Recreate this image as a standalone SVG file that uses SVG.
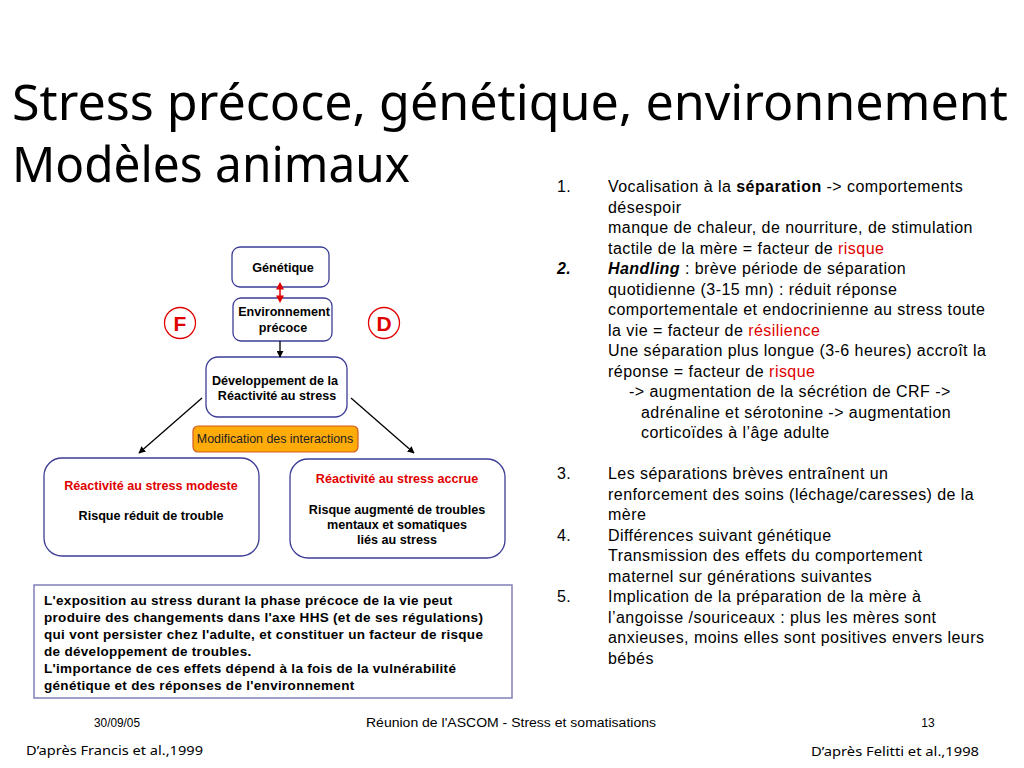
<svg xmlns="http://www.w3.org/2000/svg" width="1024" height="768" viewBox="0 0 1024 768">
<defs>
<style>
.title{font-family:"Comic Sans MS","Noto Sans",sans-serif;font-size:50px;fill:#000}
.box{fill:#fff;stroke:#3c3c96;stroke-width:1.3}
.bl{font-family:"Liberation Sans",Arial,sans-serif;font-size:12.6px;font-weight:bold;fill:#000;text-anchor:middle}
.red{fill:#e00000}
.rt{font-family:"Liberation Sans",Arial,sans-serif;font-size:16px;letter-spacing:0.45px;fill:#000}
.ft{font-family:"Liberation Sans",Arial,sans-serif;font-size:12px;fill:#000;text-anchor:middle}
.cm{font-family:"Comic Sans MS","Noto Sans",sans-serif;font-size:13px;fill:#000}
.bt{font-family:"Liberation Sans",Arial,sans-serif;font-size:13.5px;letter-spacing:0.3px;font-weight:bold;fill:#000}
.conn{stroke:#000;stroke-width:1.3;fill:none}
</style>
<marker id="ah" viewBox="0 0 10 10" refX="9" refY="5" markerWidth="7" markerHeight="7" orient="auto-start-reverse" markerUnits="userSpaceOnUse">
<path d="M0,0 L10,5 L0,10 z" fill="#000"/>
</marker>
</defs>
<rect width="1024" height="768" fill="#fff"/>

<g id="title">
<text class="title" x="12" y="120" textLength="996" lengthAdjust="spacingAndGlyphs">Stress précoce, génétique, environnement</text>
<text class="title" x="12" y="182" textLength="398" lengthAdjust="spacingAndGlyphs">Modèles animaux</text>
</g>

<g id="genetique">
<rect class="box" x="232" y="247" width="97" height="40" rx="8"/>
<text class="bl" x="283" y="272">Génétique</text>
</g>
<g id="environnement">
<rect class="box" x="233" y="298" width="99" height="43" rx="8"/>
<text class="bl" x="284" y="316">Environnement</text>
<text class="bl" x="283" y="332">précoce</text>
</g>
<g id="F">
<circle cx="180" cy="323" r="15.5" fill="#fff" stroke="#e00000" stroke-width="1.3"/>
<text x="180" y="331" font-family="Liberation Sans,Arial,sans-serif" font-size="21" font-weight="bold" fill="#e00000" text-anchor="middle">F</text>
</g>
<g id="D">
<circle cx="384" cy="323" r="15.5" fill="#fff" stroke="#e00000" stroke-width="1.3"/>
<text x="384" y="331" font-family="Liberation Sans,Arial,sans-serif" font-size="21" font-weight="bold" fill="#e00000" text-anchor="middle">D</text>
</g>
<g id="developpement">
<rect class="box" x="206" y="357" width="141" height="60" rx="12"/>
<text class="bl" x="275" y="385">Développement de la</text>
<text class="bl" x="277" y="400">Réactivité au stress</text>
</g>
<g id="modification">
<rect x="193" y="426" width="165" height="26" rx="5" fill="#ffab0a" stroke="#d05a1e" stroke-width="1.2"/>
<text x="275" y="443" font-family="Liberation Sans,Arial,sans-serif" font-size="12.4" fill="#222" text-anchor="middle">Modification des interactions</text>
</g>
<g id="modeste">
<rect class="box" x="44" y="458" width="215" height="98" rx="18"/>
<text class="bl red" x="151" y="490">Réactivité au stress modeste</text>
<text class="bl" x="151" y="520">Risque réduit de trouble</text>
</g>
<g id="accrue">
<rect class="box" x="290" y="459" width="215" height="99" rx="18"/>
<text class="bl red" x="397" y="483">Réactivité au stress accrue</text>
<text class="bl" x="397" y="514">Risque augmenté de troubles</text>
<text class="bl" x="397" y="529">mentaux et somatiques</text>
<text class="bl" x="397" y="544">liés au stress</text>
</g>
<g id="conclusion">
<rect x="34" y="585" width="478" height="113" fill="#fff" stroke="#8080b8" stroke-width="1.5"/>
<text class="bt" x="44" y="605">L'exposition au stress durant la phase précoce de la vie peut</text>
<text class="bt" x="44" y="622">produire des changements dans l'axe HHS (et de ses régulations)</text>
<text class="bt" x="44" y="639">qui vont persister chez l'adulte, et constituer un facteur de risque</text>
<text class="bt" x="44" y="656">de développement de troubles.</text>
<text class="bt" x="44" y="673">L'importance de ces effets dépend à la fois de la vulnérabilité</text>
<text class="bt" x="44" y="690">génétique et des réponses de l'environnement</text>
</g>

<g id="connectors">
<line x1="280" y1="287" x2="280" y2="298" stroke="#e00000" stroke-width="1.5"/>
<path d="M276,289.5 L280,282 L284,289.5 z M276,295.5 L280,303 L284,295.5 z" fill="#e00000"/>
<line class="conn" x1="280" y1="341" x2="280" y2="357" marker-end="url(#ah)"/>
<line class="conn" x1="202" y1="398" x2="139" y2="453" marker-end="url(#ah)"/>
<line class="conn" x1="351" y1="398" x2="414" y2="453" marker-end="url(#ah)"/>
</g>

<g id="liste" class="rt">
<text x="557" y="192">1.</text>
<text x="608" y="192">Vocalisation à la <tspan font-weight="bold">séparation</tspan> -&gt; comportements</text>
<text x="608" y="213">désespoir</text>
<text x="608" y="233">manque de chaleur, de nourriture, de stimulation</text>
<text x="608" y="254">tactile de la mère = facteur de <tspan class="red">risque</tspan></text>
<text x="557" y="274" font-weight="bold" font-style="italic">2.</text>
<text x="608" y="274"><tspan font-weight="bold" font-style="italic">Handling</tspan> : brève période de séparation</text>
<text x="608" y="295">quotidienne (3-15 mn) : réduit réponse</text>
<text x="608" y="315">comportementale et endocrinienne au stress toute</text>
<text x="608" y="336">la vie = facteur de <tspan class="red">résilience</tspan></text>
<text x="608" y="356">Une séparation plus longue (3-6 heures) accroît la</text>
<text x="608" y="377">réponse = facteur de <tspan class="red">risque</tspan></text>
<text x="629" y="397">-&gt; augmentation de la sécrétion de CRF -&gt;</text>
<text x="641" y="418">adrénaline et sérotonine -&gt; augmentation</text>
<text x="641" y="438">corticoïdes à l’âge adulte</text>
<text x="557" y="479">3.</text>
<text x="608" y="479">Les séparations brèves entraînent un</text>
<text x="608" y="500">renforcement des soins (léchage/caresses) de la</text>
<text x="608" y="520">mère</text>
<text x="557" y="541">4.</text>
<text x="608" y="541">Différences suivant génétique</text>
<text x="608" y="561">Transmission des effets du comportement</text>
<text x="608" y="582">maternel sur générations suivantes</text>
<text x="557" y="602">5.</text>
<text x="608" y="602">Implication de la préparation de la mère à</text>
<text x="608" y="623">l’angoisse /souriceaux : plus les mères sont</text>
<text x="608" y="643">anxieuses, moins elles sont positives envers leurs</text>
<text x="608" y="664">bébés</text>
</g>

<g id="footer">
<text class="ft" x="117" y="727" textLength="46" lengthAdjust="spacingAndGlyphs">30/09/05</text>
<text class="ft" x="511" y="727" textLength="290" lengthAdjust="spacingAndGlyphs">Réunion de l'ASCOM - Stress et somatisations</text>
<text class="ft" x="928" y="727">13</text>
<text class="cm" x="26" y="755" textLength="177" lengthAdjust="spacingAndGlyphs">D’après Francis et al.,1999</text>
<text class="cm" x="811" y="756" textLength="168" lengthAdjust="spacingAndGlyphs">D’après Felitti et al.,1998</text>
</g>
</svg>
